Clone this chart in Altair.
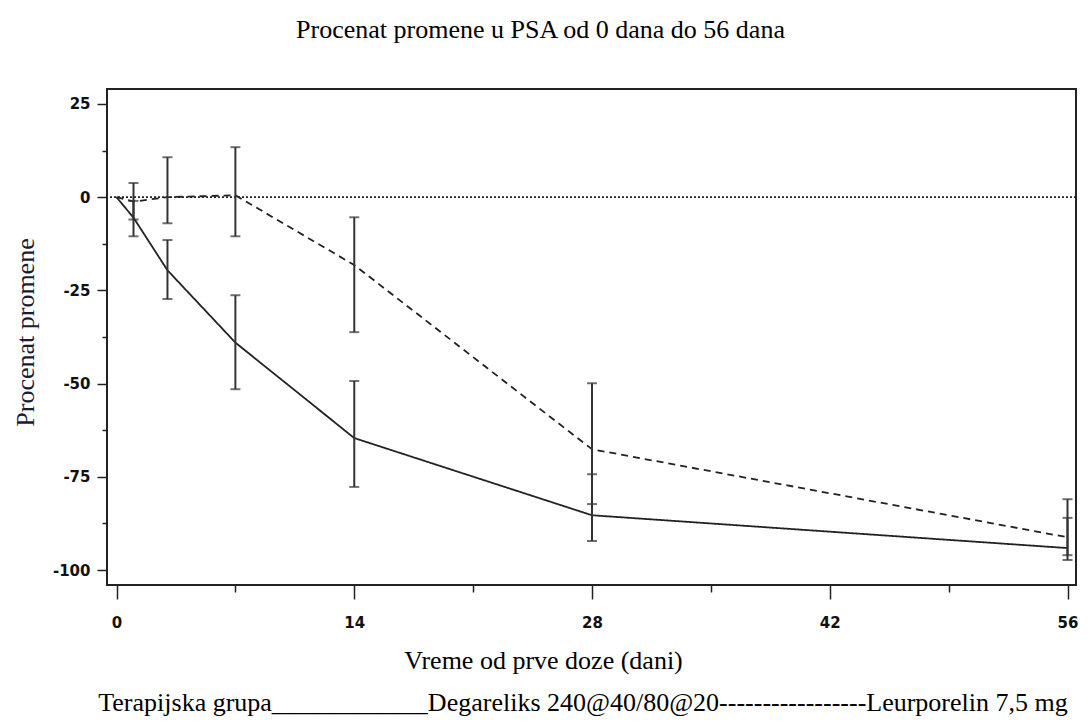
import altair as alt
import pandas as pd

# ---- data ----
days = [0, 1, 3, 7, 14, 28, 56]
groups = ["Degareliks 240@40/80@20", "Leurporelin 7,5 mg"]

deg_mean = [0.0, -5.5, -19.6, -39.0, -64.6, -85.3, -94.1]
deg_low = [None, -10.5, -27.3, -51.5, -77.7, -92.2, -97.3]
deg_high = [None, -1.0, -11.5, -26.3, -49.3, -74.3, -86.0]

leu_mean = [0.0, -1.2, 0.0, 0.5, -18.2, -67.6, -91.2]
leu_low = [None, -6.0, -7.0, -10.5, -36.2, -82.3, -96.0]
leu_high = [None, 3.8, 10.7, 13.4, -5.4, -49.9, -81.0]

x_ticks = [0, 7, 14, 21, 28, 35, 42, 49, 56]
y_ticks = [25, 12.5, 0, -12.5, -25, -37.5, -50, -62.5, -75, -87.5, -100]

title_text = "Procenat promene u PSA od 0 dana do 56 dana"
x_title = "Vreme od prve doze (dani)"
y_title = "Procenat promene"
legend_text = "Terapijska grupa" + "_" * 12 + groups[0] + "-" * 17 + groups[1]

rows = []
for g, m, lo, hi in [(groups[0], deg_mean, deg_low, deg_high),
                     (groups[1], leu_mean, leu_low, leu_high)]:
    for d, mv, l, h in zip(days, m, lo, hi):
        rows.append({"group": g, "day": d, "mean": mv, "low": l, "high": h})
df = pd.DataFrame(rows)
err = df.dropna(subset=["low", "high"])

serif = "Liberation Serif"
ink = "#222222"

x_enc = alt.X(
    "day:Q",
    scale=alt.Scale(domain=[-0.56, 56.5], nice=False, zero=False),
    axis=alt.Axis(
        values=x_ticks,
        labelExpr="datum.value % 14 === 0 ? datum.label : ''",
        tickSize=alt.condition("datum.value % 14 === 0", alt.value(14), alt.value(7)),
        tickWidth=1.5, tickColor=ink, domain=False, grid=False,
        labelFont="DejaVu Sans", labelFontWeight="bold", labelFontSize=15,
        labelColor="#111111", labelPadding=16,
        title=x_title, titleFont=serif, titleFontSize=26, titleFontWeight="normal",
        titleColor="black", titleX=436, titleY=75, titleBaseline="middle", titleAlign="center",
    ),
)
y_scale = alt.Scale(domain=[-104.0, 29.0], nice=False, zero=False)
y_axis = alt.Axis(
    values=y_ticks,
    labelExpr="datum.value % 25 === 0 ? '' + datum.value : ''",
    tickSize=alt.condition("datum.value % 25 === 0", alt.value(10), alt.value(5)),
    tickWidth=1.5, tickColor=ink, domain=False, grid=False,
    labelFont="DejaVu Sans", labelFontWeight="bold", labelFontSize=15,
    labelColor="#111111", labelPadding=7,
    title=y_title, titleFont=serif, titleFontSize=26, titleFontWeight="normal",
    titleColor="#1a1a33", titleAngle=270, titleX=-82, titleY=243,
    titleBaseline="middle", titleAlign="center",
)

base = alt.Chart(df)

zero_line = alt.Chart(pd.DataFrame({"z": [0]})).mark_rule(
    color=ink, strokeWidth=1.6, strokeDash=[2, 2]
).encode(y=alt.Y("z:Q", scale=y_scale, axis=y_axis))

lines = base.mark_line(color=ink, strokeWidth=1.8).encode(
    x=x_enc,
    y=alt.Y("mean:Q", scale=y_scale, axis=y_axis),
    strokeDash=alt.StrokeDash("group:N", scale=alt.Scale(domain=groups, range=[[1, 0], [7, 5]]), legend=None),
    detail="group:N",
)

bars = alt.Chart(err).mark_rule(color="#333333", strokeWidth=2).encode(
    x=x_enc,
    y=alt.Y("low:Q", scale=y_scale, axis=y_axis),
    y2="high:Q",
)

caps = alt.Chart(err).transform_fold(["low", "high"], as_=["end", "val"]).mark_tick(
    color="#333333", orient="horizontal", size=10, thickness=2
).encode(
    x=x_enc,
    y=alt.Y("val:Q", scale=y_scale, axis=y_axis),
)

legend = alt.Chart(pd.DataFrame({"t": [legend_text]})).mark_text(
    font=serif, fontSize=26, align="center", baseline="middle", color="black"
).encode(text="t:N", x=alt.value(476), y=alt.value(614))

chart = alt.layer(zero_line, lines, bars, caps, legend).properties(
    width=969,
    height=496,
    title=alt.TitleParams(
        text=title_text, font=serif, fontSize=26, fontWeight="normal", color="black",
        anchor="middle", dx=-51, offset=20, baseline="bottom",
    ),
    autosize=alt.AutoSizeParams(type="none"),
    padding={"left": 99, "top": 81, "right": 3, "bottom": 131},
).configure_view(stroke=ink, strokeWidth=2)

chart.save("out.html", embed_options={"renderer": "svg", "actions": False})
